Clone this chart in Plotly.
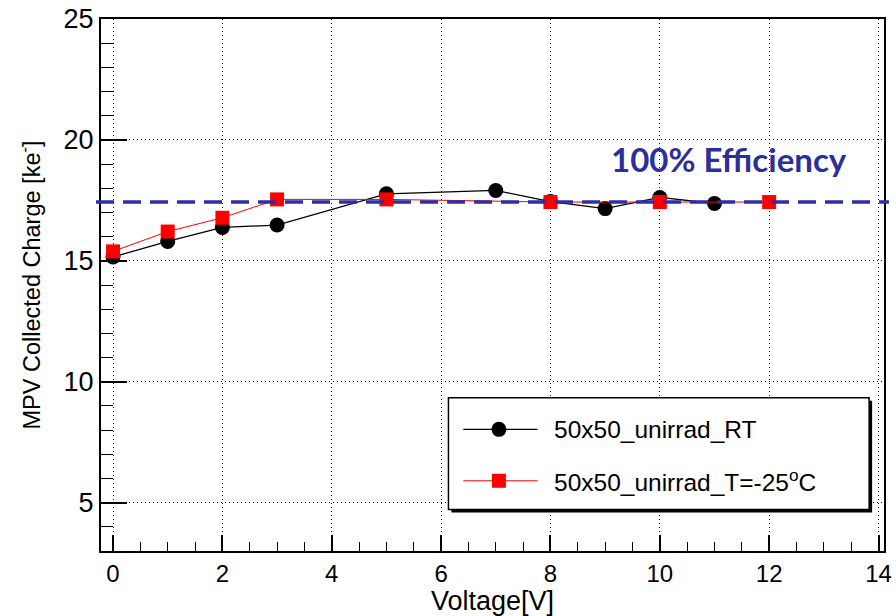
import plotly.graph_objects as go

# ---------------- data ----------------
rt_voltage = [0, 1, 2, 3, 5, 7, 8, 9, 10, 11]
rt_charge = [15.16, 15.8, 16.38, 16.48, 17.77, 17.91, 17.45, 17.16, 17.62, 17.37]

cold_voltage = [0, 1, 2, 3, 5, 8, 10, 12]
cold_charge = [15.39, 16.21, 16.78, 17.54, 17.54, 17.43, 17.43, 17.43]

efficiency_level = 17.43
rt_name = "50x50_unirrad_RT"
cold_name = "50x50_unirrad_T=-25<sup>o</sup>C"
eff_label = "100% Efficiency"
x_title = "Voltage[V]"
y_title = "MPV Collected Charge [ke<sup>-</sup>]"

# ---------------- layout geometry ----------------
W, H = 896, 616
L, R, T, B = 101, 892, 15, 553
FONT = "Liberation Sans, Arial, Helvetica, sans-serif"


def px(x):
    return (x - L) / (R - L)


def py(y):
    return (B - y) / (B - T)


fig = go.Figure()

fig.add_trace(go.Scatter(
    x=rt_voltage, y=rt_charge, mode="lines+markers", name=rt_name,
    line=dict(color="black", width=1.3),
    marker=dict(symbol="circle", size=15, color="black"),
    showlegend=False,
))
fig.add_trace(go.Scatter(
    x=cold_voltage, y=cold_charge, mode="lines+markers", name=cold_name,
    line=dict(color="#ff0000", width=1),
    marker=dict(symbol="square", size=14, color="#ff0000"),
    showlegend=False,
))

shapes = []
# 100% efficiency dashed line
shapes.append(dict(type="line", xref="paper", yref="y",
                   x0=px(96), x1=px(897), y0=efficiency_level, y1=efficiency_level,
                   line=dict(color="#2e2ea6", width=3.5, dash="18px,9px"), layer="above"))

# legend box (ROOT style with shadow)
shapes.append(dict(type="rect", xref="paper", yref="paper",
                   x0=px(455), x1=px(880), y0=py(514), y1=py(401),
                   fillcolor="black", line=dict(width=0), layer="above"))
shapes.append(dict(type="rect", xref="paper", yref="paper",
                   x0=px(452), x1=px(877), y0=py(511), y1=py(398),
                   fillcolor="white", line=dict(color="black", width=1.5), layer="above"))
rows = [(430, "black", 1.3, "circle"), (482, "#ff0000", 1.0, "square")]
for yy, col, lw, sym in rows:
    shapes.append(dict(type="line", xref="paper", yref="paper",
                       x0=px(467), x1=px(542), y0=py(yy), y1=py(yy),
                       line=dict(color=col, width=lw), layer="above"))
    if sym == "circle":
        shapes.append(dict(type="circle", xref="paper", yref="paper",
                           xsizemode="pixel", ysizemode="pixel",
                           xanchor=px(503), yanchor=py(yy),
                           x0=-7.5, x1=7.5, y0=-7.5, y1=7.5,
                           fillcolor=col, line=dict(width=0), layer="above"))
    else:
        shapes.append(dict(type="rect", xref="paper", yref="paper",
                           xsizemode="pixel", ysizemode="pixel",
                           xanchor=px(503), yanchor=py(yy),
                           x0=-7, x1=7, y0=-7, y1=7,
                           fillcolor=col, line=dict(width=0), layer="above"))

annotations = [
    dict(xref="paper", yref="paper", x=px(557), y=py(430), xanchor="left", yanchor="middle",
         text=rt_name, showarrow=False, font=dict(family=FONT, size=24.5, color="black")),
    dict(xref="paper", yref="paper", x=px(557), y=py(482), xanchor="left", yanchor="middle",
         text=cold_name, showarrow=False, font=dict(family=FONT, size=24.5, color="black")),
    dict(xref="paper", yref="paper", x=px(735), y=py(157), xanchor="center", yanchor="middle",
         text="<b>" + eff_label + "</b>", showarrow=False,
         font=dict(family="Lato, Open Sans, sans-serif", size=33, color="#2b2f9a")),
]

fig.update_layout(
    width=W, height=H,
    margin=dict(l=L, r=W - R, t=T, b=H - B, pad=0),
    paper_bgcolor="white", plot_bgcolor="white",
    font=dict(family=FONT, color="black"),
    shapes=shapes, annotations=annotations,
    showlegend=False,
)

fig.update_xaxes(
    range=[-0.22, 14.1], tick0=0, dtick=2,
    ticks="inside", ticklen=16, tickwidth=1.5, tickcolor="black",
    minor=dict(ticks="inside", ticklen=9, dtick=0.5, tickwidth=1.2, tickcolor="black", showgrid=False),
    showgrid=True, gridcolor="black", gridwidth=1, griddash="1px,3px",
    zeroline=False, showline=True, linecolor="black", linewidth=2, mirror=True,
    ticklabeloverflow="allow",
    tickfont=dict(family=FONT, size=24, color="black"),
    title=dict(text=x_title, font=dict(family=FONT, size=27, color="black"), standoff=6),
)
fig.update_yaxes(
    range=[3, 25], tick0=0, dtick=5,
    ticks="inside", ticklen=26, tickwidth=1.5, tickcolor="black",
    minor=dict(ticks="inside", ticklen=12, dtick=1, tickwidth=1.2, tickcolor="black", showgrid=False),
    showgrid=True, gridcolor="black", gridwidth=1, griddash="1px,3px",
    zeroline=False, showline=True, linecolor="black", linewidth=2, mirror=True,
    tickfont=dict(family=FONT, size=27, color="black"),
    title=dict(text=y_title, font=dict(family=FONT, size=23.5, color="black"), standoff=16),
)

fig.write_html("out.html")
